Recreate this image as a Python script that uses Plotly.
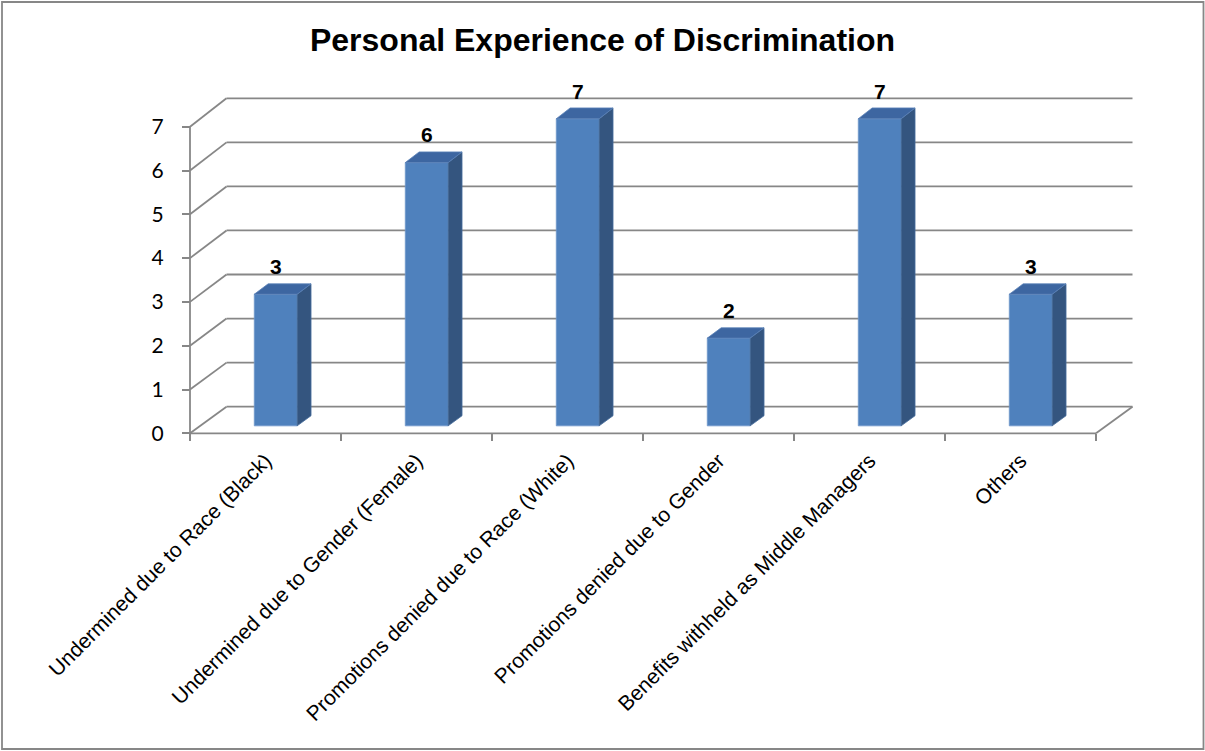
import plotly.graph_objects as go

# ---------------- data ----------------
categories = [
    "Undermined due to Race (Black)",
    "Undermined due to Gender (Female)",
    "Promotions denied due to Race (White)",
    "Promotions denied due to Gender",
    "Benefits withheld as Middle Managers",
    "Others",
]
values = [3, 6, 7, 2, 7, 3]
y_ticks = [0, 1, 2, 3, 4, 5, 6, 7]
title_text = "Personal Experience of Discrimination"

# ---------------- oblique 3D projection parameters ----------------
FIG_W, FIG_H = 1205, 751
X0_PX, X_SCALE = 190.0, 151.0      # px of category origin, px per category
V0_PX, V_SCALE = 433.3, 43.8       # px of value 0, px per value unit
DX = 36.5 / X_SCALE                # full-depth horizontal shift (category units)
DV = 26.6 / V_SCALE                # full-depth vertical shift (value units)
BACK_S = 1.0059                    # slight perspective on back wall
D0, D1 = 0.28, 0.66                # bar depth (front, back)
HW = 0.142                         # bar half width (category units)

GRID = "#878787"
FRONT = "#4F81BD"
SIDE = "#34557F"
TOP = "#3D66A1"


def proj(x, v, d):
    return x + DX * d, v * (1 + (BACK_S - 1) * d) + DV * d


fig = go.Figure()

# back wall gridlines, left wall diagonals, floor edge
gx, gy = [], []
n = len(categories)
for t in y_ticks:
    a = proj(0, t, 1)
    b = proj(n, t, 1)
    gx += [a[0], b[0], None]
    gy += [a[1], b[1], None]
    c = proj(0, t, 0)
    gx += [c[0], a[0], None]
    gy += [c[1], a[1], None]
# right floor edge
a = proj(n, 0, 0)
b = proj(n, 0, 1)
gx += [a[0], b[0], None]
gy += [a[1], b[1], None]
# front axes lines
gx += [0, n, None, 0, 0, None]
gy += [0, 0, None, 0, y_ticks[-1], None]
fig.add_trace(go.Scatter(x=gx, y=gy, mode="lines",
                         line=dict(color=GRID, width=1.8),
                         hoverinfo="skip", showlegend=False))

# 3D bars
for i, v in enumerate(values):
    x0 = i + 0.5 - HW
    x1 = i + 0.5 + HW
    faces = [
        ([(x0, 0, D0), (x1, 0, D0), (x1, v, D0), (x0, v, D0)], FRONT, "#6E97CC"),
        ([(x1, 0, D0), (x1, 0, D1), (x1, v, D1), (x1, v, D0)], SIDE, "#456C9C"),
        ([(x0, v, D0), (x1, v, D0), (x1, v, D1), (x0, v, D1)], TOP, "#5A82B8"),
    ]
    for pts, fc, lc in faces:
        xs, ys = [], []
        for p in pts + [pts[0]]:
            px, py = proj(*p)
            xs.append(px)
            ys.append(py)
        fig.add_trace(go.Scatter(x=xs, y=ys, mode="lines", fill="toself",
                                 fillcolor=fc, line=dict(color=lc, width=0.8),
                                 hoverinfo="skip", showlegend=False))

# data labels
lx, ly, lt = [], [], []
for i, v in enumerate(values):
    px, py = proj(i + 0.5, v, D0)
    lx.append(px)
    ly.append(py + 0.58)
    lt.append(str(v))
fig.add_trace(go.Scatter(x=lx, y=ly, mode="text", text=lt,
                         textfont=dict(family="Liberation Sans, Arial", size=21,
                                       color="black", weight="bold"),
                         textposition="middle center",
                         hoverinfo="skip", showlegend=False))

x_range = [-X0_PX / X_SCALE, (FIG_W - X0_PX) / X_SCALE]
y_range = [(V0_PX - FIG_H) / V_SCALE, V0_PX / V_SCALE]

fig.update_layout(
    width=FIG_W, height=FIG_H,
    margin=dict(l=0, r=0, t=0, b=0),
    paper_bgcolor="white", plot_bgcolor="white",
    title=dict(text="<b>" + title_text + "</b>", x=0.5, xanchor="center",
               y=1 - 40 / FIG_H, yanchor="middle",
               font=dict(family="Liberation Sans, Arial", size=32, color="black")),
    xaxis=dict(range=x_range, anchor="free", position=(FIG_H - V0_PX) / FIG_H,
               showgrid=False, zeroline=False, showline=False,
               tickmode="array", tickvals=[i + 0.5 for i in range(n)],
               ticktext=categories, tickangle=-45, ticks="", ticklen=0,
               ticklabelstandoff=10,
               tickfont=dict(family="Liberation Sans, Arial", size=21, color="black"),
               minor=dict(tickmode="array", tickvals=list(range(n + 1)),
                          ticks="outside", ticklen=7, tickwidth=1.8, tickcolor=GRID),
               fixedrange=True),
    yaxis=dict(range=y_range, anchor="free", position=X0_PX / FIG_W,
               showgrid=False, zeroline=False, showline=False,
               tickmode="array", tickvals=y_ticks, ticks="outside", ticklen=8,
               tickwidth=1.8, tickcolor=GRID, ticklabelstandoff=14,
               tickfont=dict(family="Lato", size=21, color="black"),
               fixedrange=True),
    shapes=[dict(type="rect", xref="paper", yref="paper",
                 x0=2 / FIG_W, x1=1203.5 / FIG_W, y0=1 - 749 / FIG_H, y1=1 - 2 / FIG_H,
                 line=dict(color=GRID, width=1.8), fillcolor="rgba(0,0,0,0)")],
)

fig.write_html("out.html")
